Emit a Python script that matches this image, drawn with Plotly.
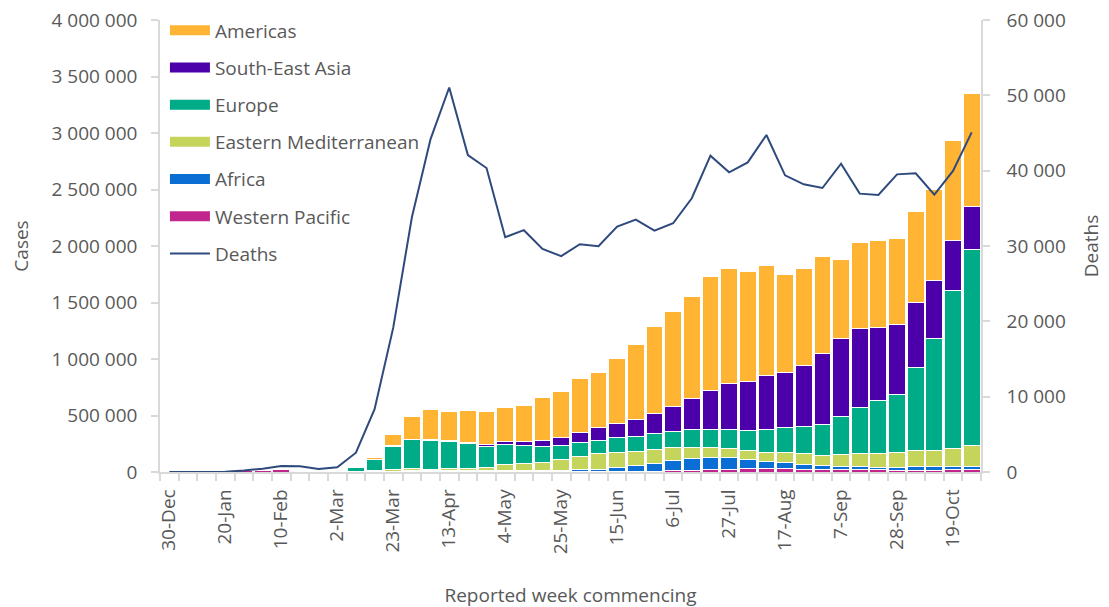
import plotly.graph_objects as go

# === 1. Data ===
weeks = [
    "30-Dec", "6-Jan", "13-Jan", "20-Jan", "27-Jan", "3-Feb", "10-Feb", "17-Feb", "24-Feb",
    "2-Mar", "9-Mar", "16-Mar", "23-Mar", "30-Mar", "6-Apr", "13-Apr", "20-Apr", "27-Apr",
    "4-May", "11-May", "18-May", "25-May", "1-Jun", "8-Jun", "15-Jun", "22-Jun", "29-Jun",
    "6-Jul", "13-Jul", "20-Jul", "27-Jul", "3-Aug", "10-Aug", "17-Aug", "24-Aug", "31-Aug",
    "7-Sep", "14-Sep", "21-Sep", "28-Sep", "5-Oct", "12-Oct", "19-Oct", "26-Oct",
]
labelled_weeks = ["30-Dec", "20-Jan", "10-Feb", "2-Mar", "23-Mar", "13-Apr", "4-May", "25-May",
                  "15-Jun", "6-Jul", "27-Jul", "17-Aug", "7-Sep", "28-Sep", "19-Oct"]

western_pacific = [
    0, 1000, 3000, 5000, 12000, 14000, 22000, 6000, 3000, 3000, 3000, 3000, 4000, 6000, 7000,
    6000, 4000, 3000, 3000, 3000, 3000, 4000, 4000, 4000, 5000, 6000, 8000, 10000, 13000, 18000,
    26000, 29000, 29000, 28000, 24000, 22000, 20000, 19000, 18000, 17000, 17000, 17000, 18000, 18000,
]
africa = [
    0, 0, 0, 0, 0, 0, 0, 0, 0, 100, 500, 1000, 2000, 3000, 4000,
    5000, 6000, 6000, 6000, 7000, 9000, 13000, 17000, 22000, 33000, 48000, 64000, 93000, 107000, 110000,
    100000, 82000, 64000, 56000, 44000, 37000, 33000, 33000, 24000, 24000, 28000, 30000, 31000, 32000,
]
eastern_med = [
    0, 0, 0, 0, 0, 0, 0, 0, 500, 3000, 5000, 8000, 14000, 18000, 14000,
    20000, 25000, 32000, 53000, 69000, 76000, 91000, 120000, 139000, 139000, 124000, 131000, 118000, 101000, 93000,
    86000, 83000, 84000, 87000, 94000, 91000, 106000, 112000, 123000, 136000, 143000, 147000, 160000, 182000,
]
europe = [
    0, 0, 0, 0, 0, 0, 0, 0, 1000, 4000, 28000, 100000, 210000, 260000, 255000,
    236000, 218000, 183000, 179000, 156000, 136000, 129000, 118000, 118000, 127000, 132000, 138000, 135000, 156000, 156000,
    168000, 177000, 203000, 220000, 241000, 274000, 335000, 409000, 471000, 512000, 736000, 986000, 1398000, 1734000,
]
south_east_asia = [
    0, 0, 0, 0, 0, 0, 0, 0, 0, 0, 0, 1000, 3000, 2000, 5000,
    8000, 11000, 23000, 30000, 39000, 59000, 68000, 88000, 111000, 126000, 156000, 180000, 221000, 270000, 344000,
    400000, 429000, 470000, 492000, 539000, 621000, 686000, 695000, 644000, 615000, 577000, 515000, 442000, 383000,
]
americas = [
    0, 0, 0, 0, 0, 0, 0, 0, 0, 0, 2000, 18000, 103000, 201000, 265000,
    257000, 281000, 289000, 303000, 311000, 379000, 407000, 483000, 483000, 573000, 660000, 771000, 842000, 910000, 1013000,
    1024000, 978000, 975000, 868000, 856000, 859000, 698000, 765000, 766000, 759000, 807000, 801000, 888000, 1000000,
]
deaths = [
    0, 0, 0, 20, 200, 440, 800, 750, 400, 620, 2560, 8340, 19160, 33820, 44190,
    51040, 42070, 40350, 31170, 32100, 29620, 28650, 30240, 29980, 32580, 33510, 32050, 33020, 36340, 41990,
    39780, 41100, 44730, 39380, 38190, 37700, 40930, 36950, 36780, 39510, 39650, 36820, 39960, 45080,
]

# stacked bottom -> top, legend shows top -> bottom
regions = [
    ("Western Pacific", western_pacific, "#C0268E"),
    ("Africa", africa, "#0A6ED4"),
    ("Eastern Mediterranean", eastern_med, "#C5D45B"),
    ("Europe", europe, "#00AC88"),
    ("South-East Asia", south_east_asia, "#4B00A9"),
    ("Americas", americas, "#FFB533"),
]

GREY = "#595959"
AXIS = "#d9d9d9"
FONT = "Open Sans"
FS = 19

# === 2. Figure ===
fig = go.Figure()
for rank, (name, values, colour) in enumerate(regions):
    fig.add_trace(go.Bar(
        x=weeks, y=values, name=name, showlegend=False,
        marker=dict(color=colour, line=dict(color="white", width=1)),
    ))
    # wide legend swatch like the original
    fig.add_trace(go.Scatter(
        x=[None], y=[None], name=name, mode="lines",
        line=dict(color=colour, width=12),
        legendrank=len(regions) - rank, legendgroup=name,
    ))

fig.add_trace(go.Scatter(
    x=weeks, y=deaths, name="Deaths", yaxis="y2", mode="lines",
    line=dict(color="#2E4A7D", width=2),
    legendrank=10, legendgroup="Deaths",
))

tick_text = [w if w in labelled_weeks else "" for w in weeks]

# the page body adds an 8px offset, margins compensate for it
fig.update_layout(
    width=1109, height=607,
    barmode="stack", bargap=0.1,
    plot_bgcolor="white", paper_bgcolor="white",
    separators=". ",
    font=dict(family=FONT, size=FS, color=GREY),
    margin=dict(l=152, r=136, t=12, b=143, autoexpand=False),
    showlegend=True,
    legend=dict(
        x=0.006, y=1.019, xanchor="left", yanchor="top",
        bgcolor="rgba(0,0,0,0)", font=dict(size=FS, color=GREY),
        traceorder="grouped", tracegroupgap=9.5, itemwidth=40,
    ),
    xaxis=dict(
        type="category", range=[-0.5, len(weeks) - 0.5], automargin=False,
        tickvals=weeks, ticktext=tick_text, tickangle=-90, ticklabelstandoff=8,
        tickson="boundaries", ticks="outside", ticklen=7, tickcolor=AXIS, tickwidth=1.5,
        showline=True, linecolor=AXIS, linewidth=1.5,
        tickfont=dict(size=FS, color=GREY),
        title=dict(text="Reported week commencing", font=dict(size=FS, color=GREY), standoff=35),
        showgrid=False,
    ),
    yaxis=dict(
        range=[0, 4000000], dtick=500000, tickformat=",d", automargin=False,
        ticks="outside", ticklen=7, tickcolor=AXIS, tickwidth=1.5, ticklabelstandoff=10,
        ticklabeloverflow="allow",
        showline=True, linecolor=AXIS, linewidth=1.5,
        showgrid=False, zeroline=False,
        tickfont=dict(size=FS, color=GREY),
        title=dict(text="Cases", font=dict(size=FS, color=GREY), standoff=18),
    ),
    yaxis2=dict(
        overlaying="y", side="right", automargin=False,
        range=[0, 60000], dtick=10000, tickformat=",d",
        ticks="outside", ticklen=7, tickcolor=AXIS, tickwidth=1.5, ticklabelstandoff=13,
        ticklabeloverflow="allow",
        showline=True, linecolor=AXIS, linewidth=1.5,
        showgrid=False, zeroline=False,
        tickfont=dict(size=FS, color=GREY),
        title=dict(text="Deaths", font=dict(size=FS, color=GREY), standoff=20),
    ),
)

fig.write_html("out.html")
